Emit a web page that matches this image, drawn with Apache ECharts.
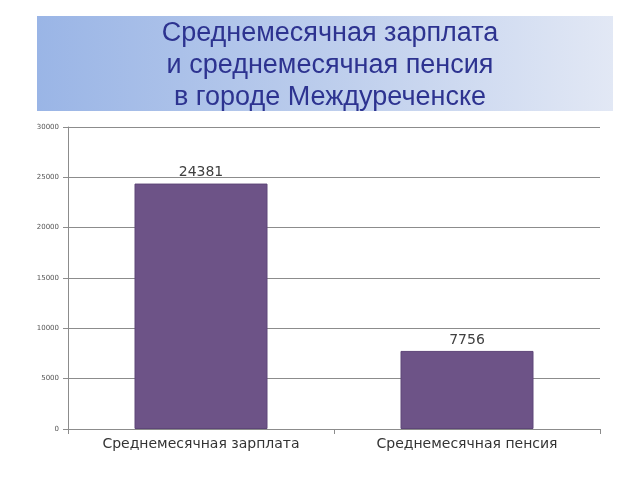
<!DOCTYPE html>
<html>
<head>
<meta charset="utf-8">
<script src="https://cdn.jsdelivr.net/npm/echarts@6/dist/echarts.min.js"></script>
<style>html,body{margin:0;padding:0;background:#fff;}#c{width:640px;height:480px;}</style>
</head>
<body>
<div id="c"></div>
<script>
var titleLines = ['Среднемесячная зарплата', 'и среднемесячная пенсия', 'в городе Междуреченске'];
var categories = ['Среднемесячная зарплата', 'Среднемесячная пенсия'];
var values = [24381, 7756];
var yTicks = [0, 5000, 10000, 15000, 20000, 25000, 30000];

var chart = echarts.init(document.getElementById('c'), null, {renderer: 'canvas'});
chart.setOption({
  animation: false,
  backgroundColor: '#ffffff',
  graphic: [{
    type: 'rect',
    shape: {x: 37, y: 16, width: 576, height: 95},
    style: {
      fill: new echarts.graphic.LinearGradient(0, 0, 1, 0, [
        {offset: 0, color: '#9ab5e6'},
        {offset: 0.5, color: '#bccdec'},
        {offset: 1, color: '#e2e8f5'}
      ])
    },
    z: 0
  }],
  title: {
    text: titleLines.join('\n'),
    left: 325,
    textAlign: 'center',
    top: 13,
    textStyle: {
      fontFamily: 'Liberation Sans, Arial, sans-serif',
      fontWeight: 'normal',
      fontSize: 27,
      lineHeight: 32,
      color: '#2d3390'
    }
  },
  grid: {left: 68, right: 40, top: 127, bottom: 51, containLabel: false},
  xAxis: {
    type: 'category',
    data: categories,
    axisLine: {lineStyle: {color: '#8c8c8c', width: 1}},
    axisTick: {show: true, length: 5, lineStyle: {color: '#8c8c8c'}},
    axisLabel: {
      fontFamily: 'DejaVu Sans, sans-serif',
      fontSize: 14,
      color: '#333',
      margin: 8
    }
  },
  yAxis: {
    type: 'value',
    min: 0,
    max: 30000,
    interval: 5000,
    axisLine: {show: true, lineStyle: {color: '#8c8c8c'}},
    axisTick: {show: true, length: 5, lineStyle: {color: '#8c8c8c'}},
    splitLine: {show: true, lineStyle: {color: '#8c8c8c', width: 1}},
    axisLabel: {
      fontFamily: 'DejaVu Sans, sans-serif',
      fontSize: 7,
      color: '#555',
      margin: 9,
      formatter: function (v) { return yTicks.indexOf(v) >= 0 ? String(v) : ''; }
    }
  },
  series: [{
    type: 'bar',
    data: values,
    barWidth: '50%',
    itemStyle: {color: '#6d5387', borderColor: '#5e4678', borderWidth: 1},
    label: {
      show: true,
      position: 'top',
      distance: 4,
      fontFamily: 'DejaVu Sans, sans-serif',
      fontSize: 14,
      color: '#404040'
    }
  }]
});
</script>
</body>
</html>
